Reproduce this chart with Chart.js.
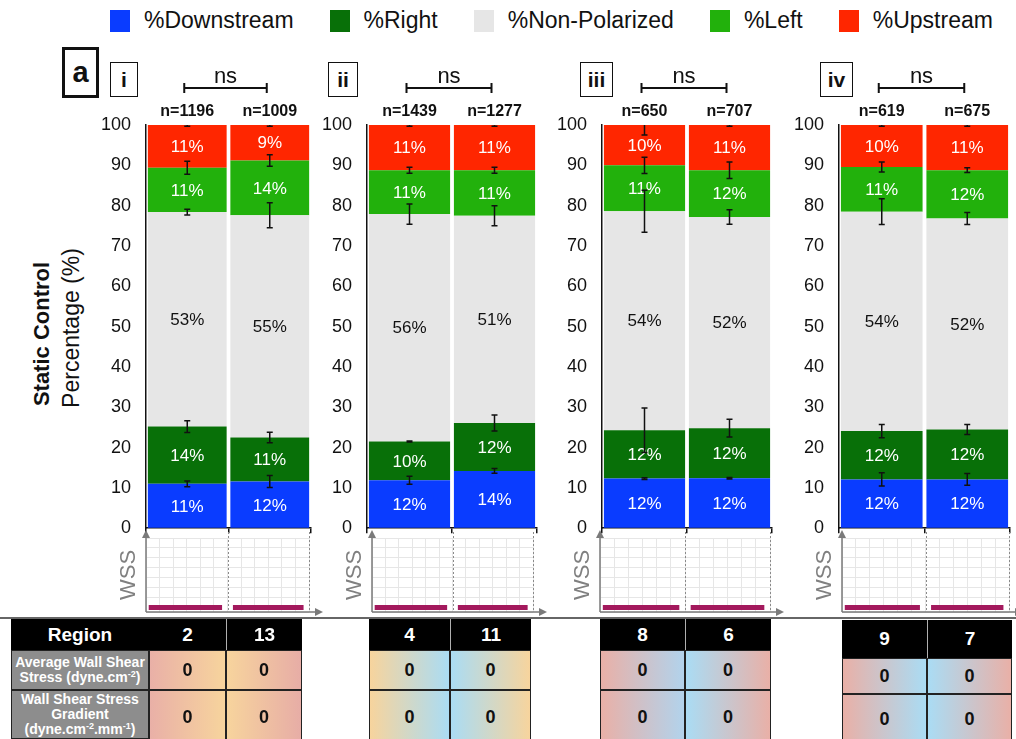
<!DOCTYPE html>
<html>
<head>
<meta charset="utf-8">
<script src="https://cdn.jsdelivr.net/npm/chart.js@4.4.0/dist/chart.umd.min.js"></script>
<style>
  html, body { margin: 0; padding: 0; background: #fff; }
  #page { position: relative; width: 1016px; height: 739px; overflow: hidden;
          font-family: "Liberation Sans", Arial, Helvetica, sans-serif; color: #111; }
  .abs { position: absolute; }
  #legend { position: absolute; left: 110px; top: 7px; display: flex; align-items: center; gap: 36px; font-size: 23px; }
  #legend .item { display: flex; align-items: center; gap: 14px; }
  #legend .sw { width: 20px; height: 22px; }
  .ytitle { position: absolute; transform: translate(-50%, -50%) rotate(-90deg); white-space: nowrap; }
  .pbox { position: absolute; border: 1.5px solid #111; box-sizing: border-box; display: flex;
          align-items: center; justify-content: center; font-weight: bold; font-size: 21px; background: #fff; }
  .cell { position: absolute; box-sizing: border-box; display: flex; align-items: center; justify-content: center;
          text-align: center; font-weight: bold; }
  .head { background: #000; color: #fff; font-size: 19px; }
  .rowlab { background: #8d8d8d; color: #fff; font-size: 14px; line-height: 15px; border: 1px solid #222; white-space: nowrap; }
  .val { font-size: 18px; color: #111; border: 1px solid #222; }
  sup { font-size: 9px; vertical-align: 5px; line-height: 0; }
</style>
</head>
<body>
<div id="page">
  <div id="legend"></div>
  <div class="ytitle" style="left:42px; top:334px; font-weight:bold; font-size:22px;">Static Control</div>
  <div class="ytitle" style="left:71px; top:328px; font-size:23px;">Percentage (%)</div>
</div>
<script>
const FONT = '"Liberation Sans", Arial, Helvetica, sans-serif';

// stacked categories, bottom to top
const seriesNames = ['%Downstream', '%Right', '%Non-Polarized', '%Left', '%Upstream'];
const seriesColors = ['#0a3cff', '#087008', '#e6e6e6', '#22b10c', '#ff2600'];
const labelColors = ['#fff', '#fff', '#111', '#fff', '#fff'];

// one entry per bar: i(2,13), ii(4,11), iii(8,6), iv(9,7)
const downstreamPct   = [11.0, 11.6, 11.9, 14.2, 12.3, 12.4, 12.1, 12.1];
const rightPct        = [14.2, 10.9,  9.6, 11.9, 12.0, 12.4, 12.0, 12.4];
const nonPolarizedPct = [53.2, 55.1, 56.4, 51.4, 54.3, 52.4, 54.4, 52.3];
const leftPct         = [11.0, 13.6, 10.9, 11.3, 11.4, 11.6, 11.1, 12.0];
const upstreamPct     = [10.6,  8.8, 11.2, 11.2, 10.0, 11.2, 10.4, 11.2];

// error bar half-lengths, drawn at the top of each segment
const downstreamSem   = [0.7, 1.5, 1.0, 0.6, 0.2, 0.2, 1.65, 1.45];
const rightSem        = [1.45, 1.3, 0.15, 2.0, 5.5, 2.2, 1.65, 1.25];
const nonPolarizedSem = [0.7, 3.1, 2.5, 2.5, 5.2, 1.8, 3.2, 1.5];
const leftSem         = [1.6, 1.45, 0.75, 0.75, 2.0, 2.05, 1.25, 0.6];
const upstreamSem     = [0.3, 0.3, 0.3, 0.3, 2.5, 0.3, 0.3, 0.3];

const cellCounts = [1196, 1009, 1439, 1277, 650, 707, 619, 675];
const regions = ['2', '13', '4', '11', '8', '6', '9', '7'];
const avgWss = [0, 0, 0, 0, 0, 0, 0, 0];
const wssGradient = [0, 0, 0, 0, 0, 0, 0, 0];
const panelNames = ['i', 'ii', 'iii', 'iv'];
const yTicks = [0, 10, 20, 30, 40, 50, 60, 70, 80, 90, 100];

const seriesPct = [downstreamPct, rightPct, nonPolarizedPct, leftPct, upstreamPct];
const seriesSem = [downstreamSem, rightSem, nonPolarizedSem, leftSem, upstreamSem];

// layout of the four panels
const panelAxisX = [146, 367, 602, 839];
const panelRightX = [311, 537, 772, 1010];
const panelBox = [[110, 28], [328, 30], [580, 33], [820, 33]];
const wssAxisX = [146, 372, 600, 842];
const wssRightX = [309, 533, 770, 1009];
const tableCols = [[149, 226, 302], [369, 450, 531], [600, 685, 771], [842, 927, 1012]];
const tableRows = [[619, 650, 690, 745], [619, 650, 690, 745], [619, 650, 690, 745], [620, 658, 694, 745]];
const cellShades = [['#e9b0a7', '#f7d49d'], ['#f7d49d', '#e7ada6'], ['#f7d49d', '#aadcf4'], ['#aadcf4', '#f7d49d'],
                    ['#e9b0a7', '#b2d3ec'], ['#aadcf4', '#e9b0a7'], ['#e9b0a7', '#aadcf4'], ['#aadcf4', '#e9b0a7']];

Chart.defaults.font.family = FONT;
Chart.defaults.color = '#111';

const page = document.getElementById('page');

function addCanvas(x, y, w, h) {
  const c = document.createElement('canvas');
  c.width = w; c.height = h;
  c.style.cssText = `position:absolute;left:${x}px;top:${y}px;width:${w}px;height:${h}px;`;
  page.appendChild(c);
  return c;
}

// legend
const legend = document.getElementById('legend');
seriesNames.forEach((name, s) => {
  const it = document.createElement('div');
  it.className = 'item';
  it.innerHTML = `<span class="sw" style="background:${seriesColors[s]}"></span><span>${name}</span>`;
  legend.appendChild(it);
});

// percent labels inside the segments, error bars, n counts and the ns bracket
const segmentMarks = {
  id: 'segmentMarks',
  afterDatasetsDraw(chart) {
    const { ctx, chartArea: area, scales: { y } } = chart;
    const sets = chart.data.datasets;
    ctx.save();
    ctx.textAlign = 'center';
    ctx.textBaseline = 'middle';
    ctx.font = '17px ' + FONT;
    chart.data.labels.forEach((_, i) => {
      let base = 0;
      sets.forEach((ds, s) => {
        const top = base + ds.data[i];
        const x = chart.getDatasetMeta(s).data[i].x;
        ctx.fillStyle = labelColors[s];
        ctx.fillText(Math.round(ds.data[i]) + '%', x, (y.getPixelForValue(base) + y.getPixelForValue(top)) / 2 + 1);
        base = top;
      });
    });
    ctx.beginPath();
    ctx.rect(area.left, area.top, area.right - area.left, area.bottom - area.top);
    ctx.clip();
    ctx.strokeStyle = '#111';
    ctx.lineWidth = 1.5;
    chart.data.labels.forEach((_, i) => {
      let base = 0;
      sets.forEach((ds, s) => {
        base += ds.data[i];
        const x = chart.getDatasetMeta(s).data[i].x;
        const y0 = y.getPixelForValue(base - ds.sem[i]);
        const y1 = y.getPixelForValue(base + ds.sem[i]);
        ctx.beginPath();
        ctx.moveTo(x, y0); ctx.lineTo(x, y1);
        ctx.moveTo(x - 3, y0); ctx.lineTo(x + 3, y0);
        ctx.moveTo(x - 3, y1); ctx.lineTo(x + 3, y1);
        ctx.stroke();
      });
    });
    ctx.restore();
  },
  afterDraw(chart) {
    const { ctx, chartArea: area } = chart;
    const bars = chart.getDatasetMeta(0).data;
    ctx.save();
    ctx.fillStyle = '#111';
    ctx.textAlign = 'center';
    ctx.textBaseline = 'middle';
    ctx.font = 'bold 16px ' + FONT;
    chart.data.labels.forEach((lab, i) => ctx.fillText(lab, bars[i].x, area.top - 13));
    const x0 = bars[0].x - 3, x1 = bars[1].x - 3, yb = area.top - 37;
    ctx.strokeStyle = '#111';
    ctx.lineWidth = 2;
    ctx.beginPath();
    ctx.moveTo(x0, yb); ctx.lineTo(x1, yb);
    ctx.moveTo(x0, yb - 5); ctx.lineTo(x0, yb + 5);
    ctx.moveTo(x1, yb - 5); ctx.lineTo(x1, yb + 5);
    ctx.stroke();
    ctx.font = '22px ' + FONT;
    ctx.fillText('ns', (x0 + x1) / 2, yb - 11);
    ctx.restore();
  }
};

// WSS sketch: dotted region bounds and arrowed axes
const wssFrame = {
  id: 'wssFrame',
  beforeDatasetsDraw(chart) {
    const { ctx, chartArea: a, scales: { x } } = chart;
    ctx.save();
    ctx.strokeStyle = '#8a8a8a';
    ctx.lineWidth = 1;
    ctx.setLineDash([2, 2]);
    [6, 12].forEach(v => {
      const px = Math.round(x.getPixelForValue(v)) + 0.5;
      ctx.beginPath(); ctx.moveTo(px, a.top - 6); ctx.lineTo(px, a.bottom); ctx.stroke();
    });
    ctx.restore();
  },
  afterDraw(chart) {
    const { ctx, chartArea: a } = chart;
    ctx.save();
    ctx.strokeStyle = '#7a7a7a';
    ctx.fillStyle = '#7a7a7a';
    ctx.lineWidth = 1.5;
    ctx.beginPath();
    ctx.moveTo(a.left, a.bottom); ctx.lineTo(a.left, a.top - 2);
    ctx.moveTo(a.left, a.bottom); ctx.lineTo(a.right + 8, a.bottom);
    ctx.stroke();
    ctx.beginPath();
    ctx.moveTo(a.left, a.top - 8); ctx.lineTo(a.left - 4, a.top); ctx.lineTo(a.left + 4, a.top); ctx.closePath();
    ctx.moveTo(a.right + 14, a.bottom); ctx.lineTo(a.right + 6, a.bottom - 4); ctx.lineTo(a.right + 6, a.bottom + 4); ctx.closePath();
    ctx.fill();
    ctx.restore();
  }
};

panelNames.forEach((name, k) => {
  const idx = [2 * k, 2 * k + 1];
  const ax = panelAxisX[k];
  const yW = 55;
  const canvas = addCanvas(ax - yW, 55, panelRightX[k] - ax + yW + 6, 499);
  new Chart(canvas, {
    type: 'bar',
    data: {
      labels: idx.map(i => 'n=' + cellCounts[i]),
      datasets: seriesNames.map((label, s) => ({
        label,
        data: idx.map(i => seriesPct[s][i]),
        sem: idx.map(i => seriesSem[s][i]),
        backgroundColor: seriesColors[s],
        borderWidth: 0,
        barPercentage: 0.955,
        categoryPercentage: 1
      }))
    },
    options: {
      responsive: false,
      animation: false,
      devicePixelRatio: 1,
      layout: { padding: { top: 70, bottom: 4, left: 0, right: 6 } },
      plugins: { legend: { display: false }, tooltip: { enabled: false } },
      scales: {
        x: {
          stacked: true,
          ticks: { display: false },
          grid: { drawOnChartArea: false, drawTicks: true, tickLength: 5, color: '#111', lineWidth: 1.5 },
          border: { display: true, color: '#111', width: 1.5 },
          afterFit: s => { s.height = 8; }
        },
        y: {
          stacked: true,
          min: 0,
          max: 100,
          afterBuildTicks: s => { s.ticks = yTicks.map(v => ({ value: v })); },
          ticks: { color: '#111', font: { size: 18 }, padding: 15 },
          grid: { drawOnChartArea: false, drawTicks: false },
          border: { display: true, color: '#111', width: 1.5 },
          afterFit: s => { s.width = yW; }
        }
      }
    },
    plugins: [segmentMarks]
  });

  // WSS sketch under the bars
  const wx = wssAxisX[k];
  const wCanvas = addCanvas(wx - 34, 530, wssRightX[k] - wx + 34 + 18, 86);
  new Chart(wCanvas, {
    type: 'line',
    data: {
      datasets: [{
        data: [
          { x: 0.2, y: avgWss[idx[0]] }, { x: 5.6, y: avgWss[idx[0]] }, { x: 6, y: null },
          { x: 6.4, y: avgWss[idx[1]] }, { x: 11.6, y: avgWss[idx[1]] }
        ],
        borderColor: '#a3195d',
        borderWidth: 5,
        borderCapStyle: 'butt',
        pointRadius: 0,
        spanGaps: false
      }]
    },
    options: {
      responsive: false,
      animation: false,
      devicePixelRatio: 1,
      layout: { padding: { top: 8, bottom: 4, left: 0, right: 18 } },
      plugins: { legend: { display: false }, tooltip: { enabled: false } },
      scales: {
        x: {
          type: 'linear', min: 0, max: 12,
          ticks: { display: false, stepSize: 1 },
          grid: { color: '#e6e6e6', drawTicks: false },
          border: { display: false },
          afterFit: s => { s.height = 0; }
        },
        y: {
          min: -0.45, max: 7,
          ticks: { display: false, stepSize: 1 },
          grid: { color: '#e6e6e6', drawTicks: false },
          border: { display: false },
          title: { display: true, text: 'WSS', color: '#808080', font: { size: 22 }, padding: { top: 4, bottom: 4 } },
          afterFit: s => { s.width = 34; }
        }
      }
    },
    plugins: [wssFrame]
  });

  // panel tag
  const tag = document.createElement('div');
  tag.className = 'pbox';
  tag.style.cssText = `left:${panelBox[k][0]}px;top:62px;width:${panelBox[k][1]}px;height:35px;`;
  tag.textContent = name;
  page.appendChild(tag);
});

// panel letter
const letter = document.createElement('div');
letter.className = 'pbox';
letter.style.cssText = 'left:62px;top:47px;width:37px;height:51px;border-width:3.5px;font-size:29px;';
letter.textContent = 'a';
page.appendChild(letter);

// rule above the region table
const rule = document.createElement('div');
rule.className = 'abs';
rule.style.cssText = 'left:0;top:617px;width:1016px;height:1.5px;background:#666;';
page.appendChild(rule);

function addCell(cls, x0, y0, x1, y1, html, extra) {
  const d = document.createElement('div');
  d.className = 'cell ' + cls;
  d.style.cssText = `left:${x0}px;top:${y0}px;width:${x1 - x0}px;height:${y1 - y0}px;` + (extra || '');
  d.innerHTML = `<div>${html}</div>`;
  page.appendChild(d);
}

// region table
const rowLabels = ['Region', 'Average Wall Shear<br>Stress (dyne.cm<sup>-2</sup>)',
                   'Wall Shear Stress<br>Gradient<br>(dyne.cm<sup>-2</sup>.mm<sup>-1</sup>)'];
const rows = tableRows[0];
addCell('head', 11, rows[0], tableCols[0][0], rows[1], rowLabels[0]);
addCell('rowlab', 11, rows[1], tableCols[0][0], rows[2], rowLabels[1]);
addCell('rowlab', 11, rows[2], tableCols[0][0], 739, rowLabels[2]);

panelNames.forEach((_, k) => {
  const cols = tableCols[k];
  const r = tableRows[k];
  [2 * k, 2 * k + 1].forEach((i, c) => {
    const sep = c === 1 ? 'border-left:1.5px solid #b0b0b0;' : '';
    addCell('head', cols[c], r[0], cols[c + 1], r[1], regions[i], sep);
    const bg = `background:linear-gradient(to right, ${cellShades[i][0]}, ${cellShades[i][1]});`;
    addCell('val', cols[c], r[1], cols[c + 1], r[2], avgWss[i], bg);
    addCell('val', cols[c], r[2], cols[c + 1], r[3], wssGradient[i], bg);
  });
});
</script>
</body>
</html>
